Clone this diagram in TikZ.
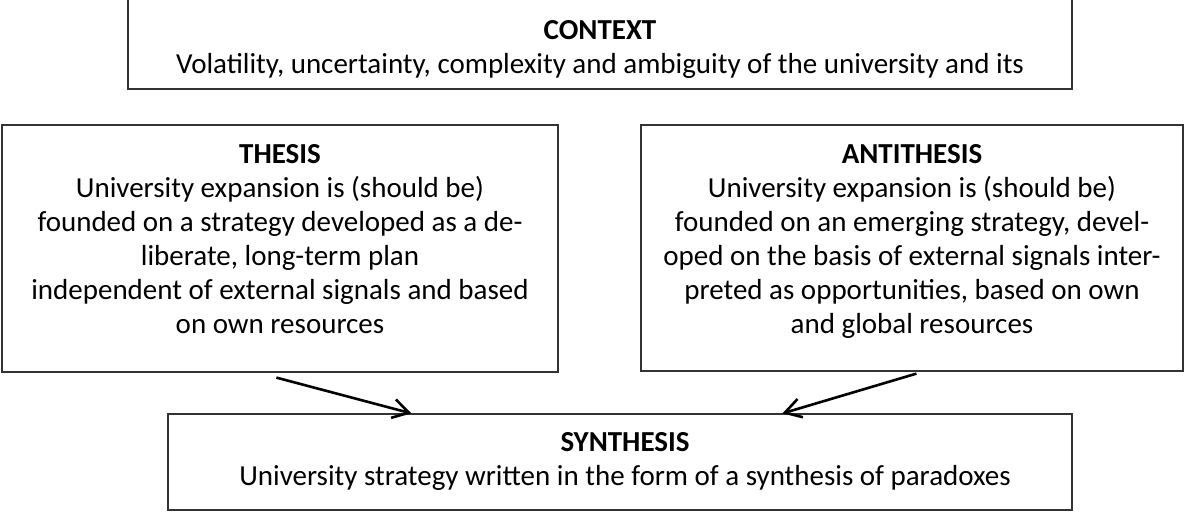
\documentclass[tikz,border=0pt]{standalone}
\usepackage{fontspec}
\setmainfont{Carlito}
\usetikzlibrary{arrows.meta}
\begin{document}
\begin{tikzpicture}[x=0.5pt,y=-0.5pt,
  boxnode/.style n args={2}{draw=black!80, line width=0.6pt, inner sep=0pt,
    minimum width=#1, minimum height=#2},
  txt/.style={anchor=north, inner sep=0pt, align=center,
    font=\fontsize{14.5pt}{17pt}\selectfont},
  arr/.style={line width=1.3pt, -{Straight Barb[length=8pt,width=9.5pt,line width=1.3pt]}}]
\useasboundingbox (0,0) rectangle (1193,511);
\fill[white] (0,0) rectangle (1193,511);
% boxes
\node[boxnode={472pt}{47pt}] (ctx) at (600,42) {};
\node[boxnode={278pt}{123.5pt}] (thesis) at (280,248.5) {};
\node[boxnode={271pt}{123pt}] (anti) at (912,248) {};
\node[boxnode={452pt}{48pt}] (synth) at (620,462) {};
% texts
\node[txt] (ctxtext) at (600,15) {\strut\textbf{CONTEXT}\\Volatility, uncertainty, complexity and ambiguity of the university and its};
\node[txt] (thesistext) at (280,139.2) {\strut\textbf{THESIS}\\University expansion is (should be)\\founded on a strategy developed as a de-\\liberate, long-term plan\\independent of external signals and based\\on own resources};
\node[txt] (antitext) at (912,139.2) {\strut\textbf{ANTITHESIS}\\University expansion is (should be)\\founded on an emerging strategy, devel-\\oped on the basis of external signals inter-\\preted as opportunities, based on own\\and global resources};
\node[txt] (synthtext) at (625,427.2) {\strut\textbf{SYNTHESIS}\\University strategy written in the form of a synthesis of paradoxes};
% arrows
\draw[arr] ([xshift=137.5pt,yshift=-2.5pt]thesis.south west) -- ([xshift=122pt,yshift=0pt]synth.north west);
\draw[arr] ([xshift=138pt,yshift=-1pt]anti.south west) -- ([xshift=307.5pt,yshift=0pt]synth.north west);
\end{tikzpicture}
\end{document}
